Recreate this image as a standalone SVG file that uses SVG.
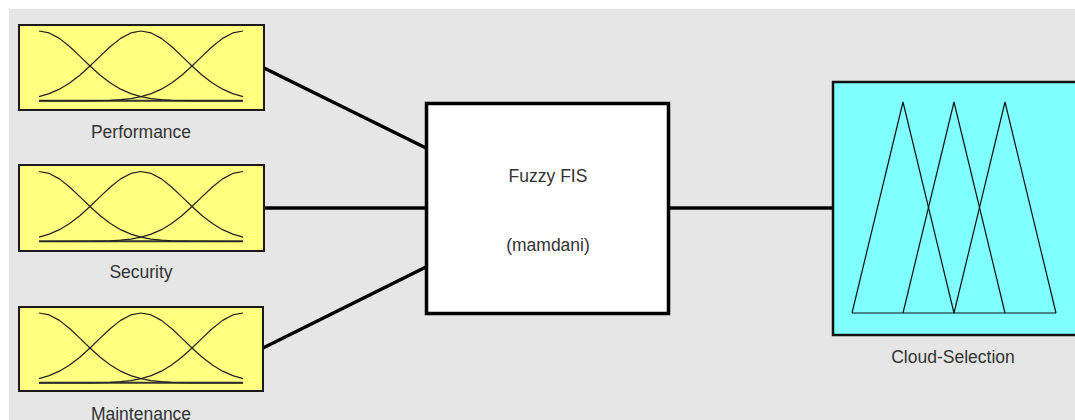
<svg xmlns="http://www.w3.org/2000/svg" xmlns:xlink="http://www.w3.org/1999/xlink" width="1075" height="420" viewBox="0 0 1075 420">
<style>
.bg{fill:#e6e6e6}
.inbox{fill:#ffff80;stroke:#1a1a1a;stroke-width:2}
.mf{fill:none;stroke:#222;stroke-width:1.2;stroke-linejoin:round}
.base{fill:none;stroke:#333;stroke-width:2}
.lbl{font-family:"Liberation Sans",Arial,sans-serif;font-size:17.5px;fill:#333;text-anchor:middle}
.conn{stroke:#000;stroke-width:3.5;fill:none}
.fis{fill:#fff;stroke:#000;stroke-width:3.5}
.outbox{fill:#80ffff;stroke:#111;stroke-width:2.5}
.tri{fill:none;stroke:#111;stroke-width:1.2;stroke-linejoin:miter}
</style>
<defs>
<g id="gauss">
<line class="base" x1="39" y1="100.8" x2="243" y2="100.8"/>
<polyline class="mf" points="39,96.63 49.2,93.6 59.4,89.14 69.6,83.03 79.8,75.22 90,66.02 100.2,56.09 110.4,46.47 120.6,38.35 130.8,32.92 141,31 151.2,32.92 161.4,38.35 171.6,46.47 181.8,56.09 192,66.02 202.2,75.22 212.4,83.03 222.6,89.14 232.8,93.6 243,96.63"/>
<polyline class="mf" points="39,31 49.2,32.92 59.4,38.35 69.6,46.47 79.8,56.09 90,66.02 100.2,75.22 110.4,83.03 120.6,89.14 130.8,93.6 141,96.63 151.2,98.56 161.4,99.71 171.6,100.36 181.8,100.7 192,100.9 243,101"/>
<polyline class="mf" points="243,31 232.8,32.92 222.6,38.35 212.4,46.47 202.2,56.09 192,66.02 181.8,75.22 171.6,83.03 161.4,89.14 151.2,93.6 141,96.63 130.8,98.56 120.6,99.71 110.4,100.36 100.2,100.7 90,100.9 39,101"/>
</g>
</defs>
<rect class="bg" x="9" y="9" width="1066" height="411"/>
<g id="connectors">
<line class="conn" x1="264" y1="68" x2="426" y2="148"/>
<line class="conn" x1="264" y1="208" x2="426" y2="208"/>
<line class="conn" x1="263" y1="348" x2="426" y2="267"/>
<line class="conn" x1="669" y1="208" x2="833" y2="208"/>
</g>
<g id="performance">
<rect class="inbox" x="19" y="25" width="245" height="85"/>
<use xlink:href="#gauss"/>
<text class="lbl" x="141" y="138">Performance</text>
</g>
<g id="security">
<rect class="inbox" x="19" y="165" width="245" height="86"/>
<use xlink:href="#gauss" transform="translate(0,140.5)"/>
<text class="lbl" x="141" y="278">Security</text>
</g>
<g id="maintenance">
<rect class="inbox" x="19" y="307" width="244" height="84"/>
<use xlink:href="#gauss" transform="translate(0,282)"/>
<text class="lbl" x="141" y="420">Maintenance</text>
</g>
<g id="fis">
<rect class="fis" x="426.5" y="103.5" width="242" height="210"/>
<text class="lbl" x="548" y="182">Fuzzy FIS</text>
<text class="lbl" x="548" y="251">(mamdani)</text>
</g>
<g id="cloud-selection">
<rect class="outbox" x="833" y="82" width="250" height="253"/>
<polyline class="tri" points="852,313 903,102 954,313"/>
<polyline class="tri" points="903,313 954,102 1005,313"/>
<polyline class="tri" points="954,313 1005,102 1056,313"/>
<line class="tri" x1="852" y1="313" x2="1056" y2="313"/>
<text class="lbl" x="953" y="363">Cloud-Selection</text>
</g>
</svg>
